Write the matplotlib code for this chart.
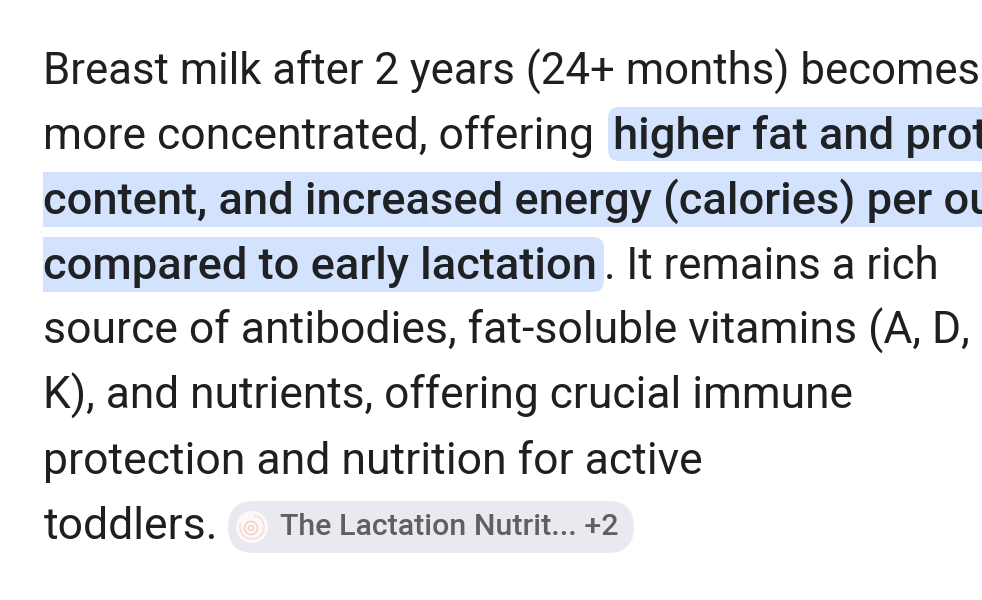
import matplotlib.pyplot as plt
from matplotlib.patches import FancyBboxPatch, Circle, Rectangle, Arc

W, H = 982, 600

# text lines: x, baseline y, text, font size
plain_lines = [
    (43.5, 85, 'Breast milk after 2 years (24+ months) becomes', 31.5),
    (43.5, 149, 'more concentrated, offering', 32),
    (604, 279, '. It remains a rich', 31.5),
    (43.5, 344, 'source of antibodies, fat-soluble vitamins (A, D,', 32),
    (43.5, 409, 'K), and nutrients, offering crucial immune', 31.9),
    (43.5, 474, 'protection and nutrition for active', 32),
    (43.5, 539, 'toddlers.', 32),
]
bold_lines = [
    (613, 149, 'higher fat and prot'),
    (43.5, 214, 'content, and increased energy (calories) per ou'),
    (43.5, 279, 'compared to early lactation'),
]
# highlight boxes: x0, y0, x1, y1
highlights = [
    (608, 107, 1000, 161),
    (43, 172, 1000, 227),
    (43, 237, 604, 292),
]
chip_text = 'The Lactation Nutrit... +2'

fig = plt.figure(figsize=(W / 100, H / 100), dpi=100, facecolor='white')
ax = fig.add_axes([0, 0, 1, 1])
ax.set_xlim(0, W)
ax.set_ylim(H, 0)
ax.axis('off')

for x0, y0, x1, y1 in highlights:
    ax.add_patch(FancyBboxPatch((x0, y0), x1 - x0, y1 - y0,
                                boxstyle='round,pad=0,rounding_size=11',
                                fc='#d3e3fd', ec='none'))
# only the outer ends of the selection are rounded
ax.add_patch(Rectangle((43, 172), 40, 55, fc='#d3e3fd', ec='none'))
ax.add_patch(Rectangle((43, 237), 40, 55, fc='#d3e3fd', ec='none'))

for x, y, s, size in plain_lines:
    ax.text(x, y, s, fontsize=size, family='Roboto', color='#1f1f1f', va='baseline')
for x, y, s in bold_lines:
    ax.text(x, y, s, fontsize=32.6, family='Roboto', weight='medium', color='#1f2125',
            va='baseline')

# source chip
ax.add_patch(FancyBboxPatch((228, 501), 406, 52, boxstyle='round,pad=0,rounding_size=26',
                            fc='#e9eaf0', ec='none'))
ax.add_patch(Circle((252, 527), 16, fc='#fdf7f6', ec='none'))
ax.add_patch(Arc((252, 527), 24, 24, theta1=-80, theta2=200, ec='#f5dcd8', lw=1.0))
ax.add_patch(Circle((251, 528), 6.5, fc='none', ec='#f2cbc5', lw=1.0))
ax.add_patch(Circle((251, 528), 2.5, fc='none', ec='#f2cbc5', lw=0.9))
ax.text(280, 535, chip_text, fontsize=21.9, family='Roboto', weight='medium',
        color='#5f6066', va='baseline')

fig.savefig('out.png', dpi=100)
